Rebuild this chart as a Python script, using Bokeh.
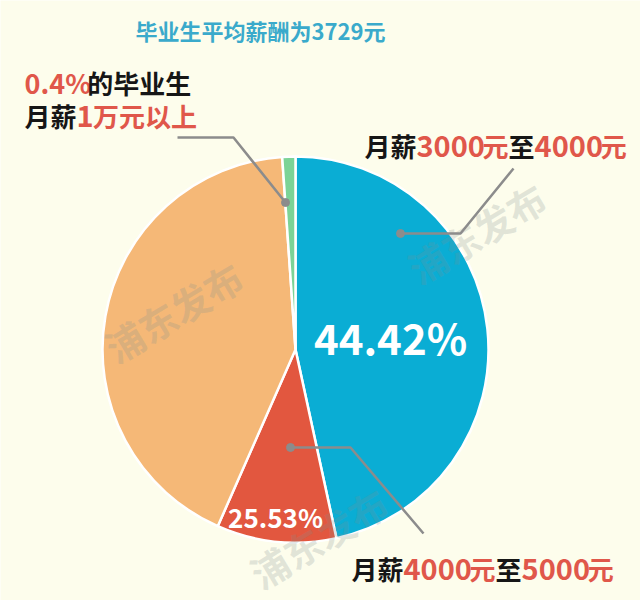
import math
from bokeh.plotting import figure
from bokeh.models import Range1d
from bokeh.core.properties import value
from bokeh.embed import file_html
from bokeh.resources import INLINE

# ---------------- data ----------------
title_text = "毕业生平均薪酬为3729元"
categories = ["月薪3000元至4000元", "月薪4000元至5000元", "其他", "月薪1万元以上"]
shares = [46.6, 10.0, 42.3, 1.1]          # slice shares as drawn in the picture (%)
slice_colors = ["#0AADD4", "#E2573F", "#F5B877", "#7CD396"]
pct_labels = ["44.42%", "25.53%"]

FONT = value("Noto Sans CJK SC")
RED = "#E0574A"
BLACK = "#161616"
GRAY = "#8C8C8C"
BG = "#FDFDEC"

W, H = 640, 600
p = figure(width=W, height=H, output_backend="svg", toolbar_location=None,
           x_range=Range1d(0, W), y_range=Range1d(0, H),
           min_border=0, background_fill_color=BG, border_fill_color=BG)
p.axis.visible = False
p.grid.visible = False
p.outline_line_color = None

def Y(yref):
    return H - yref

# ---------------- pie ----------------
cx, cy, R = 295, Y(349), 193
starts, ends = [], []
cum = 0.0
for s in shares:
    a0 = math.radians(90 - cum * 3.6)
    cum += s
    a1 = math.radians(90 - cum * 3.6)
    starts.append(a0)
    ends.append(a1)

p.wedge(x=[cx] * len(shares), y=[cy] * len(shares), radius=R,
        start_angle=starts, end_angle=ends, direction="clock",
        fill_color=slice_colors, line_color="white", line_width=2.5)

# ---------------- watermarks ----------------
wm = [(173, 311), (476, 232), (318, 537)]
p.text(x=[a for a, b in wm], y=[Y(b) for a, b in wm], text=["浦东发布"] * len(wm),
       angle=math.radians(31), text_align="center", text_baseline="middle",
       text_font=FONT, text_font_size="38px", text_font_style="bold",
       text_color="#7E8F90", text_alpha=0.22)

# ---------------- leader lines ----------------
leaders = [
    ([177, 233, 285], [137, 137, 202], (285, 202)),
    ([400, 460, 513], [233, 233, 168], (400, 233)),
    ([290, 350, 423], [447, 447, 533], (290, 447)),
]
for xs, ys, dot in leaders:
    p.line(xs, [Y(v) for v in ys], line_color=GRAY, line_width=2.5)
    p.scatter([dot[0]], [Y(dot[1])], size=8, color=GRAY)

# ---------------- rich texts ----------------
CJK_PX = 26
LAT_PX = 29

def width_of(txt, latin, size):
    if not latin:
        return size * len(txt)
    w = 0.0
    for ch in txt:
        if ch == ".":
            w += 0.28 * size
        elif ch == "%":
            w += 0.90 * size
        else:
            w += 0.57 * size
    return w

def rich(x0, yref, parts):
    x = x0
    for part in parts:
        txt, color = part[0], part[1]
        latin = all(ord(c) < 128 for c in txt)
        size = part[2] if len(part) > 2 else (LAT_PX if latin else CJK_PX)
        p.text(x=[x], y=[Y(yref)], text=[txt], text_align="left",
               text_baseline="middle", text_font=FONT,
               text_font_size=f"{size}px",
               text_font_style="bold", text_color=color)
        x += width_of(txt, latin, size)

# title
p.text(x=[260], y=[Y(29)], text=[title_text], text_align="center",
       text_baseline="middle", text_font=FONT, text_font_size="22px",
       text_font_style="bold", text_color="#3AAACB")

# top-left annotation
rich(24, 82, [("0.4%", RED, 27), ("的毕业生", BLACK)])
rich(24, 115, [("月薪", BLACK), ("1", RED), ("万元以上", RED)])

# right annotation
rich(364, 145, [("月薪", BLACK), ("3000", RED), ("元", RED), ("至", BLACK),
                ("4000", RED), ("元", RED)])

# bottom annotation
rich(351, 568, [("月薪", BLACK), ("4000", RED), ("元", RED), ("至", BLACK),
                ("5000", RED), ("元", RED)])

# percentage labels in slices
p.text(x=[390], y=[Y(336)], text=[pct_labels[0]], text_align="center",
       text_baseline="middle", text_font=FONT, text_font_size="42px",
       text_font_style="bold", text_color="white")
p.text(x=[275], y=[Y(516)], text=[pct_labels[1]], text_align="center",
       text_baseline="middle", text_font=FONT, text_font_size="26px",
       text_font_style="bold", text_color="white")

open("out.html", "w").write(file_html(p, INLINE))
